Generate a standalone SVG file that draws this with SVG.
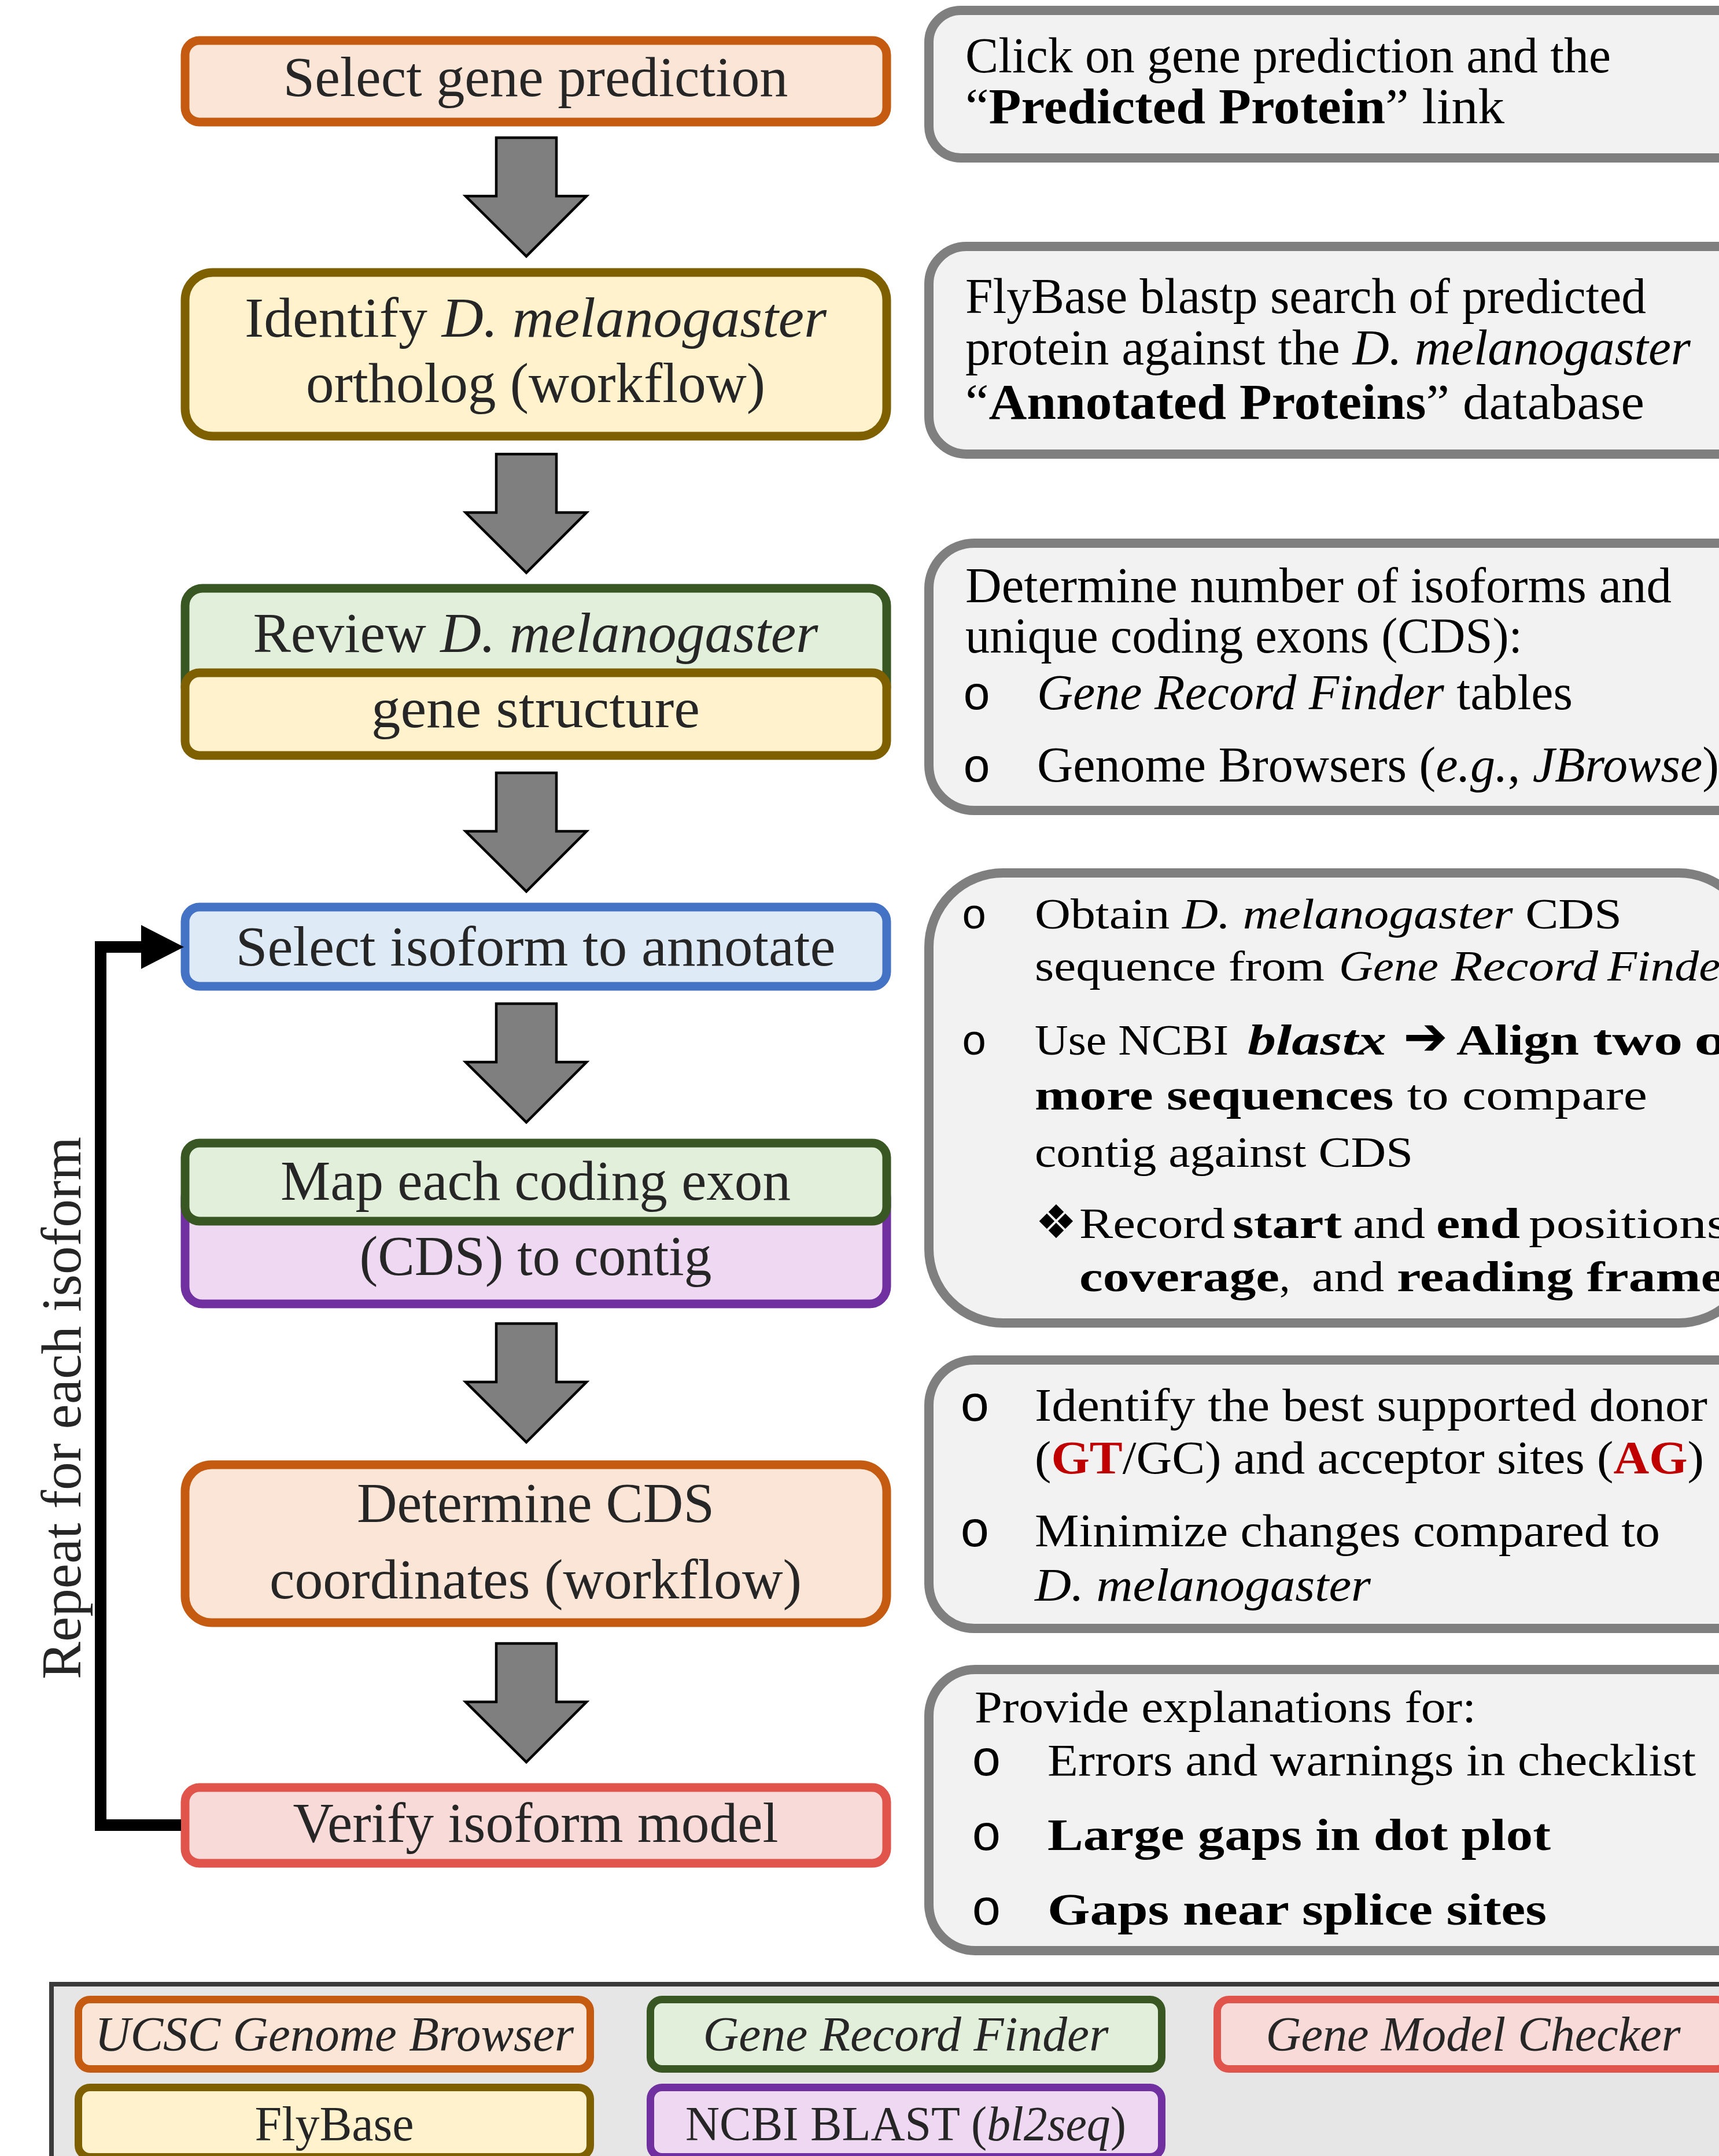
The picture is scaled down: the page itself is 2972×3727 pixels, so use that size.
<svg xmlns="http://www.w3.org/2000/svg" width="2972" height="3727" viewBox="0 0 2972 3727">
<style>
text{font-family:"Liberation Serif","Times New Roman",serif}
.L{font-size:98px;fill:#262626;text-anchor:middle}
.R{fill:#000}
.b{font-weight:bold}
.i{font-style:italic}
.red{fill:#c00000}
.bul{font-family:"Liberation Mono","Courier New",monospace;fill:#000}
.sym{font-family:"DejaVu Sans",sans-serif;fill:#000}
.rb{fill:#f2f2f2;stroke:#7f7f7f;stroke-width:16}
.nb{stroke-width:15}
.or{fill:#fbe5d6;stroke:#c55a11}
.ye{fill:#fff2cc;stroke:#7f6000}
.gr{fill:#e2efda;stroke:#385723}
.bl{fill:#deebf7;stroke:#4472c4}
.pu{fill:#efd9f2;stroke:#7030a0}
.rd{fill:#f8dbd9;stroke:#e1544b}
.lg{stroke-width:13}
.arr{fill:#7f7f7f;stroke:#000;stroke-width:4.5;stroke-linejoin:miter}
</style>
<defs>
<polygon id="blk" class="arr" points="858,0 962,0 962,101 1014,101 910,205 805,101 858,101"/>
<marker id="ah" markerUnits="userSpaceOnUse" viewBox="0 0 74 76" refX="1" refY="38" markerWidth="74" markerHeight="76" orient="auto">
<path d="M0,0 L74,38 L0,76 Z" fill="#000"/>
</marker>
</defs>
<rect width="2972" height="3727" fill="#fff"/>

<!-- right info boxes -->
<g id="info1"><rect class="rb" x="1606" y="18" width="1500" height="255" rx="55"/>
<text class="R" font-size="86" x="1669" y="125" textLength="1116" lengthAdjust="spacingAndGlyphs">Click on gene prediction and the</text>
<text class="R" font-size="86" x="1669" y="213" textLength="932" lengthAdjust="spacingAndGlyphs">“<tspan class="b">Predicted Protein</tspan>” link</text></g>

<g id="info2"><rect class="rb" x="1606" y="426" width="1500" height="359" rx="65"/>
<text class="R" font-size="86" x="1669" y="541" textLength="1177" lengthAdjust="spacingAndGlyphs">FlyBase blastp search of predicted</text>
<text class="R" font-size="86" x="1669" y="630" textLength="1254" lengthAdjust="spacingAndGlyphs">protein against the <tspan class="i">D. melanogaster</tspan></text>
<text class="R" font-size="86" x="1669" y="724" textLength="1174" lengthAdjust="spacingAndGlyphs">“<tspan class="b">Annotated Proteins</tspan>” database</text></g>

<g id="info3"><rect class="rb" x="1606" y="939" width="1500" height="462" rx="78"/>
<text class="R" font-size="86" x="1669" y="1041" textLength="1221" lengthAdjust="spacingAndGlyphs">Determine number of isoforms and</text>
<text class="R" font-size="86" x="1669" y="1128" textLength="963" lengthAdjust="spacingAndGlyphs">unique coding exons (CDS):</text>
<text class="bul" font-size="82" x="1664" y="1226">o</text>
<text class="R" font-size="86" x="1793" y="1226" textLength="926" lengthAdjust="spacingAndGlyphs"><tspan class="i">Gene Record Finder</tspan> tables</text>
<text class="bul" font-size="82" x="1664" y="1351">o</text>
<text class="R" font-size="86" x="1793" y="1351" textLength="1179" lengthAdjust="spacingAndGlyphs">Genome Browsers (<tspan class="i">e.g.</tspan>, <tspan class="i">JBrowse</tspan>)</text></g>

<g id="info4"><rect class="rb" x="1606" y="1509" width="1424" height="778" rx="128"/>
<text class="bul" font-size="74" x="1662" y="1605">o</text>
<text class="R" font-size="74" x="1789" y="1605" textLength="1015" lengthAdjust="spacingAndGlyphs">Obtain <tspan class="i">D. melanogaster</tspan> CDS</text>
<text class="R" font-size="74" y="1695"><tspan x="1789" textLength="501" lengthAdjust="spacingAndGlyphs">sequence from</tspan> <tspan class="i" x="2315" textLength="172" lengthAdjust="spacingAndGlyphs">Gene</tspan> <tspan class="i" x="2509" textLength="254" lengthAdjust="spacingAndGlyphs">Record</tspan> <tspan class="i" x="2779" textLength="228" lengthAdjust="spacingAndGlyphs">Finder</tspan></text>
<text class="bul" font-size="74" x="1662" y="1823">o</text>
<text class="R" font-size="74" y="1823"><tspan x="1789" textLength="335" lengthAdjust="spacingAndGlyphs">Use NCBI</tspan> <tspan class="b i" x="2157" textLength="240" lengthAdjust="spacingAndGlyphs">blastx</tspan> <tspan class="sym" x="2426" font-size="92">➔</tspan> <tspan class="b" x="2518" textLength="212" lengthAdjust="spacingAndGlyphs">Align</tspan> <tspan class="b" x="2754" textLength="155" lengthAdjust="spacingAndGlyphs">two</tspan> <tspan class="b" x="2929" textLength="110" lengthAdjust="spacingAndGlyphs">or</tspan></text>
<text class="R" font-size="74" x="1789" y="1918" textLength="1059" lengthAdjust="spacingAndGlyphs"><tspan class="b">more sequences</tspan> to compare</text>
<text class="R" font-size="74" x="1789" y="2017" textLength="654" lengthAdjust="spacingAndGlyphs">contig against CDS</text>
<text class="R" font-size="74" y="2140"><tspan class="sym" x="1790" font-size="80">❖</tspan><tspan x="1866" textLength="252" lengthAdjust="spacingAndGlyphs">Record</tspan> <tspan class="b" x="2131" textLength="189" lengthAdjust="spacingAndGlyphs">start</tspan> <tspan x="2339" textLength="125" lengthAdjust="spacingAndGlyphs">and</tspan> <tspan class="b" x="2483" textLength="145" lengthAdjust="spacingAndGlyphs">end</tspan> <tspan x="2643" textLength="345" lengthAdjust="spacingAndGlyphs">positions</tspan></text>
<text class="R" font-size="74" y="2232"><tspan class="b" x="1866" textLength="346" lengthAdjust="spacingAndGlyphs">coverage</tspan><tspan>,</tspan> <tspan x="2268" textLength="125" lengthAdjust="spacingAndGlyphs">and</tspan> <tspan class="b" x="2415" textLength="567" lengthAdjust="spacingAndGlyphs">reading frame</tspan></text></g>

<g id="info5"><rect class="rb" x="1606" y="2351" width="1500" height="464" rx="78"/>
<text class="bul" font-size="88" x="1659" y="2456">o</text>
<text class="R" font-size="80" x="1789" y="2456" textLength="1163" lengthAdjust="spacingAndGlyphs">Identify the best supported donor</text>
<text class="R" font-size="80" x="1789" y="2547" textLength="1157" lengthAdjust="spacingAndGlyphs">(<tspan class="b red">GT</tspan>/GC) and acceptor sites (<tspan class="b red">AG</tspan>)</text>
<text class="bul" font-size="88" x="1659" y="2673">o</text>
<text class="R" font-size="80" x="1789" y="2673" textLength="1081" lengthAdjust="spacingAndGlyphs">Minimize changes compared to</text>
<text class="R i" font-size="80" x="1789" y="2767" textLength="581" lengthAdjust="spacingAndGlyphs">D. melanogaster</text></g>

<g id="info6"><rect class="rb" x="1606" y="2886" width="1500" height="486" rx="80"/>
<text class="R" font-size="78" x="1685" y="2977" textLength="867" lengthAdjust="spacingAndGlyphs">Provide explanations for:</text>
<text class="bul" font-size="88" x="1679" y="3069">o</text>
<text class="R" font-size="78" x="1811" y="3069" textLength="1121" lengthAdjust="spacingAndGlyphs">Errors and warnings in checklist</text>
<text class="bul" font-size="88" x="1679" y="3198">o</text>
<text class="R b" font-size="78" x="1811" y="3198" textLength="870" lengthAdjust="spacingAndGlyphs">Large gaps in dot plot</text>
<text class="bul" font-size="88" x="1679" y="3327">o</text>
<text class="R b" font-size="78" x="1811" y="3327" textLength="863" lengthAdjust="spacingAndGlyphs">Gaps near splice sites</text></g>

<!-- workflow nodes -->
<g id="n1"><rect class="nb or" x="320" y="70" width="1213" height="141" rx="25"/>
<text class="L" x="926" y="166" textLength="873" lengthAdjust="spacingAndGlyphs">Select gene prediction</text></g>

<g id="n2"><rect class="nb ye" x="320" y="471" width="1213" height="283" rx="48"/>
<text class="L" x="926" y="582" textLength="1006" lengthAdjust="spacingAndGlyphs">Identify <tspan class="i">D. melanogaster</tspan></text>
<text class="L" x="926" y="695" textLength="794" lengthAdjust="spacingAndGlyphs">ortholog (workflow)</text></g>

<g id="n3"><rect class="nb gr" x="320" y="1017" width="1213" height="200" rx="30"/>
<rect class="nb ye" x="320" y="1163" width="1213" height="143" rx="25"/>
<text class="L" x="926" y="1127" textLength="977" lengthAdjust="spacingAndGlyphs">Review <tspan class="i">D. melanogaster</tspan></text>
<text class="L" x="926" y="1257" textLength="568" lengthAdjust="spacingAndGlyphs">gene structure</text></g>

<g id="n4"><rect class="nb bl" x="320" y="1568" width="1213" height="137" rx="25"/>
<text class="L" x="926" y="1669" textLength="1037" lengthAdjust="spacingAndGlyphs">Select isoform to annotate</text></g>

<g id="n5"><rect class="nb pu" x="320" y="2040" width="1213" height="214" rx="30"/>
<rect class="nb gr" x="320" y="1976" width="1213" height="135" rx="25"/>
<text class="L" x="926" y="2074" textLength="882" lengthAdjust="spacingAndGlyphs">Map each coding exon</text>
<text class="L" x="926" y="2204" textLength="609" lengthAdjust="spacingAndGlyphs">(CDS) to contig</text></g>

<g id="n6"><rect class="nb or" x="320" y="2532" width="1213" height="273" rx="46"/>
<text class="L" x="926" y="2631" textLength="618" lengthAdjust="spacingAndGlyphs">Determine CDS</text>
<text class="L" x="926" y="2763" textLength="920" lengthAdjust="spacingAndGlyphs">coordinates (workflow)</text></g>

<g id="n7"><rect class="nb rd" x="320" y="3090" width="1213" height="131" rx="25"/>
<text class="L" x="926" y="3184" textLength="839" lengthAdjust="spacingAndGlyphs">Verify isoform model</text></g>

<!-- connectors -->
<g id="connectors">
<use href="#blk" transform="translate(0,238)"/>
<use href="#blk" transform="translate(0,785)"/>
<use href="#blk" transform="translate(0,1336)"/>
<use href="#blk" transform="translate(0,1735)"/>
<use href="#blk" transform="translate(0,2288)"/>
<use href="#blk" transform="translate(0,2841)"/>
<path d="M313,3155 H174 V1637 H245" fill="none" stroke="#000" stroke-width="20" stroke-linejoin="miter" marker-end="url(#ah)"/>
<text class="L" transform="translate(139,2434) rotate(-90)" x="0" y="0" textLength="938" lengthAdjust="spacingAndGlyphs">Repeat for each isoform</text>
</g>

<!-- legend -->
<g id="legend">
<rect x="89" y="3430" width="3000" height="400" fill="#e7e6e6" stroke="#3b3b3b" stroke-width="8"/>
<g id="lg-ucsc"><rect class="lg or" x="135.5" y="3456.5" width="885" height="120" rx="20"/>
<text class="i" font-size="84" fill="#262626" text-anchor="middle" x="578" y="3545" textLength="828" lengthAdjust="spacingAndGlyphs">UCSC Genome Browser</text></g>
<g id="lg-grf"><rect class="lg gr" x="1124.5" y="3456.5" width="884" height="120" rx="20"/>
<text class="i" font-size="84" fill="#262626" text-anchor="middle" x="1566" y="3545" textLength="701" lengthAdjust="spacingAndGlyphs">Gene Record Finder</text></g>
<g id="lg-gmc"><rect class="lg rd" x="2104.5" y="3456.5" width="884" height="120" rx="20"/>
<text class="i" font-size="84" fill="#262626" text-anchor="middle" x="2547" y="3545" textLength="717" lengthAdjust="spacingAndGlyphs">Gene Model Checker</text></g>
<g id="lg-fly"><rect class="lg ye" x="135.5" y="3608.5" width="885" height="120" rx="20"/>
<text font-size="84" fill="#262626" text-anchor="middle" x="578" y="3700" textLength="275" lengthAdjust="spacingAndGlyphs">FlyBase</text></g>
<g id="lg-blast"><rect class="lg pu" x="1124.5" y="3608.5" width="884" height="120" rx="20"/>
<text font-size="84" fill="#262626" text-anchor="middle" x="1566" y="3700" textLength="762" lengthAdjust="spacingAndGlyphs">NCBI BLAST (<tspan class="i">bl2seq</tspan>)</text></g>
</g>
</svg>
